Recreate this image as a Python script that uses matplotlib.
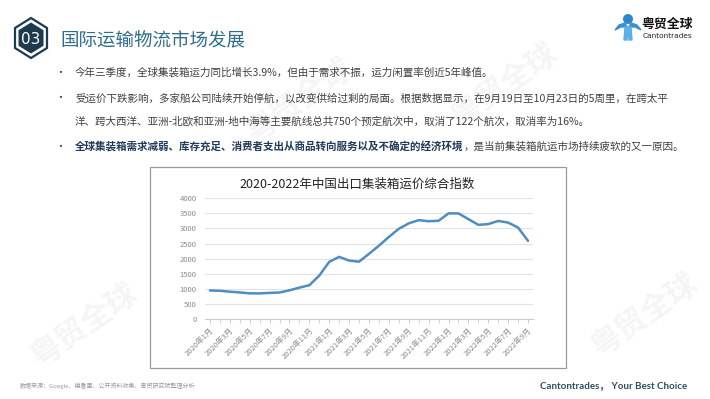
import matplotlib
matplotlib.use("Agg")
import matplotlib.pyplot as plt
import numpy as np
from matplotlib.patches import Polygon, Circle

plt.rcParams['font.family'] = ['Noto Sans CJK SC', 'DejaVu Sans']

# monthly index values, 2020-01 .. 2022-09
months = [f"{y}年{m}月" for y in (2020, 2021, 2022) for m in range(1, 13)][:33]
index_values = [945, 935, 905, 880, 850, 848, 865, 878, 950, 1040, 1120, 1440,
                1895, 2060, 1935, 1900, 2160, 2430, 2720, 2990, 3170, 3275,
                3240, 3255, 3500, 3500, 3310, 3120, 3145, 3250, 3195, 3030, 2590]
y_ticks = [0, 500, 1000, 1500, 2000, 2500, 3000, 3500, 4000]

title = "国际运输物流市场发展"
chart_title = "2020-2022年中国出口集装箱运价综合指数"
bullets = [
    "今年三季度，全球集装箱运力同比增长3.9%，但由于需求不振，运力闲置率创近5年峰值。",
    "受运价下跌影响，多家船公司陆续开始停航，以改变供给过剩的局面。根据数据显示，在9月19日至10月23日的5周里，在跨太平",
    "洋、跨大西洋、亚洲-北欧和亚洲-地中海等主要航线总共750个预定航次中，取消了122个航次，取消率为16%。",
]
bold_part = "全球集装箱需求减弱、库存充足、消费者支出从商品转向服务以及不确定的经济环境"
rest_part = "，是当前集装箱航运市场持续疲软的又一原因。"
source = "数据来源：Google、德鲁里、公开资料收集、粤贸研究院整理分析"

W, H = 710, 399
fig = plt.figure(figsize=(W / 100, H / 100), dpi=100)
fig.patch.set_facecolor('white')

bg = fig.add_axes([0, 0, 1, 1])
bg.set_xlim(0, W)
bg.set_ylim(H, 0)
bg.axis('off')

# faint watermarks
for (wx, wy) in [(85, 325), (300, 100), (505, 85), (645, 315)]:
    bg.text(wx, wy, "粤贸全球", fontsize=22, color='#f5f5f5', rotation=35,
            ha='center', va='center', fontweight='bold', zorder=0)

# hexagon badge
def hexagon(cx, cy, r, hw):
    return [(cx, cy - r), (cx + hw, cy - r / 2), (cx + hw, cy + r / 2),
            (cx, cy + r), (cx - hw, cy + r / 2), (cx - hw, cy - r / 2)]

bg.add_patch(Polygon(hexagon(31, 38, 20, 16), closed=True, fill=False,
                     edgecolor='#1d3a4e', lw=1.6))
bg.add_patch(Polygon(hexagon(31, 38, 15.5, 12.5), closed=True,
                     facecolor='#1d3a4e', edgecolor='none'))
bg.text(31, 39, "03", fontsize=11, color='white', ha='center', va='center',
        family='DejaVu Sans')
bg.text(60, 41, title, fontsize=13.3, color='#2e6d8c', ha='left', va='center')

# logo
bg.add_patch(Circle((628, 19), 4.3, color='#2f86cf'))
bg.add_patch(Polygon([(615, 30), (619, 25), (625, 23), (627, 27), (621, 27)],
                     closed=True, color='#3a8fd6'))
bg.add_patch(Polygon([(641, 30), (637, 25), (631, 23), (629, 27), (635, 27)],
                     closed=True, color='#3a8fd6'))
bg.add_patch(Polygon([(625, 27), (628, 27), (627, 40), (624, 40)],
                     closed=True, color='#5bb0e6'))
bg.add_patch(Polygon([(628, 27), (631, 27), (632, 40), (629, 40)],
                     closed=True, color='#5bb0e6'))
bg.text(641, 24, "粤贸全球", fontsize=9.3, color='#111111', fontweight='bold',
        ha='left', va='center')
bg.text(643, 35.5, "Cantontrades", fontsize=5.3, color='#222222',
        ha='left', va='center', family='DejaVu Sans')

# bullets
line_y = [73, 98, 122, 147]
for i, yy in enumerate(line_y):
    if i != 2:
        bg.text(60, yy, "•", fontsize=7, color='#333333', ha='center', va='center')
for txt, yy in zip(bullets, line_y[:3]):
    bg.text(75, yy, txt, fontsize=7.6, color='#404040', ha='left', va='center')
t_bold = bg.text(75, line_y[3], bold_part, fontsize=7.6, color='#1f3a5c',
                 fontweight='bold', ha='left', va='center')
fig.canvas.draw()
ext = t_bold.get_window_extent(fig.canvas.get_renderer())
x_end = ext.x1 / fig.dpi * 100
bg.text(x_end, line_y[3], rest_part, fontsize=7.6, color='#404040',
        ha='left', va='center')

# chart frame
bg.add_patch(Polygon([(150, 167), (566, 167), (566, 368), (150, 368)],
                     closed=True, fill=False, edgecolor='#9a9a9a', lw=0.9))
bg.text(357, 184, chart_title, fontsize=9, color='#222222',
        ha='center', va='center')

# footer
bg.text(20, 386, source, fontsize=4.3, color='#9a9a9a', ha='left', va='center')
bg.text(687, 386, "Cantontrades， Your Best Choice", fontsize=7, color='#2f4d5e',
        fontweight='bold', ha='right', va='center', family=['Lato', 'Noto Sans CJK SC'])

# line chart
left, right, top, bottom = 205, 533, 198.3, 319
ax = fig.add_axes([left / W, 1 - bottom / H, (right - left) / W, (bottom - top) / H])
ax.set_facecolor('none')
x = np.arange(len(months))
ax.plot(x, index_values, color='#4f8cbf', lw=1.8, solid_capstyle='round')
ax.set_xlim(-0.5, len(months) - 0.5)
ax.set_ylim(0, 4000)
ax.set_yticks(y_ticks)
ax.set_yticklabels([str(v) for v in y_ticks], fontsize=5.5, color='#8a8a8a')
ax.set_xticks(x[::2])
ax.set_xticklabels(months[::2], fontsize=5.5, color='#8a8a8a', rotation=45,
                   ha='right', rotation_mode='anchor')
ax.set_xticks(x, minor=True)
ax.tick_params(axis='y', length=0, pad=6)
ax.tick_params(axis='x', which='both', length=3, color='#cccccc', pad=2)
ax.grid(axis='y', color='#e3e3e3', lw=0.8)
ax.set_axisbelow(True)
for s in ['top', 'right', 'left']:
    ax.spines[s].set_visible(False)
ax.spines['bottom'].set_color('#cccccc')
ax.spines['bottom'].set_linewidth(0.8)

fig.savefig('out.png', dpi=100, facecolor='white')
